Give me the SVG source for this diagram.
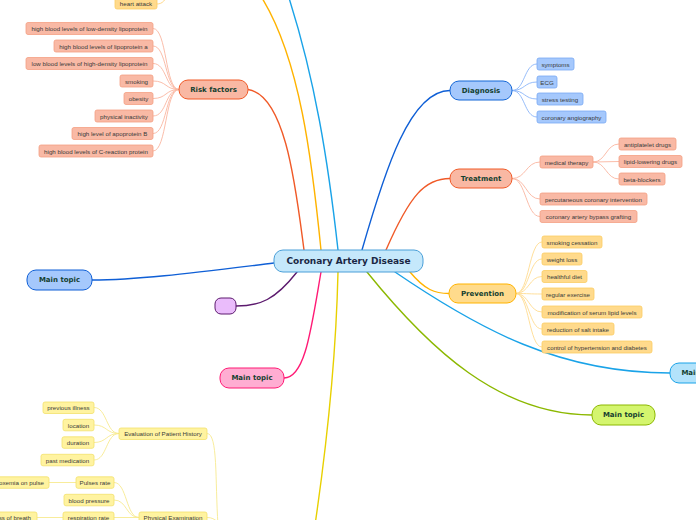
<svg xmlns="http://www.w3.org/2000/svg" width="696" height="520" viewBox="0 0 696 520">
<style>
.main{font-family:"DejaVu Sans",Verdana,sans-serif;font-weight:bold;font-size:7px;fill:#14402f;text-anchor:middle;dominant-baseline:central}
.ctr{font-family:"DejaVu Sans",Verdana,sans-serif;font-weight:bold;font-size:9px;fill:#1a2744;text-anchor:middle;dominant-baseline:central}
.sub{font-family:"Liberation Sans",Arial,sans-serif;font-size:6.2px;fill:#3a3a3a;text-anchor:middle;dominant-baseline:central}
.c{fill:none;stroke-linecap:round}
.rk{fill:#f9b9a5;stroke:#f4a083;stroke-width:0.8}
.dg{fill:#a5c8fc;stroke:#78a8f4;stroke-width:0.8}
.pv{fill:#ffda8c;stroke:#fbcd63;stroke-width:0.8}
.yl{fill:#fff3a0;stroke:#f2e16c;stroke-width:0.8}
</style>
<rect width="696" height="520" fill="#ffffff"/>
<g id="connectors">
<path class="c" stroke="#f05a28" stroke-width="1.4" d="M304,250 C296,190 286,95 248,89.5"/>
<path class="c" stroke="#ffb300" stroke-width="1.4" d="M321,250 C312,160 300,60 262,-2"/>
<path class="c" stroke="#1aa3e8" stroke-width="1.4" d="M338,250 C328,160 315,80 289,-2"/>
<path class="c" stroke="#0f5fd6" stroke-width="1.4" d="M362,250 C385,170 410,90.5 450,90.5"/>
<path class="c" stroke="#f05a28" stroke-width="1.4" d="M386,250 C410,195 425,178.5 450,178.5"/>
<path class="c" stroke="#ffb300" stroke-width="1.4" d="M410,272 C425,290 435,293.5 449,293.5"/>
<path class="c" stroke="#1aa3e8" stroke-width="1.4" d="M395,272 C480,330 560,373 670,373"/>
<path class="c" stroke="#8cb800" stroke-width="1.4" d="M367,272 C430,350 500,415 592,415"/>
<path class="c" stroke="#e8d000" stroke-width="1.4" d="M338,272 C336,360 326,450 315,525"/>
<path class="c" stroke="#ff1a75" stroke-width="1.4" d="M321,272 C311,330 305,378 284,378"/>
<path class="c" stroke="#5c1a6e" stroke-width="1.4" d="M297,272 C275,300 260,306 236,306"/>
<path class="c" stroke="#0f5fd6" stroke-width="1.4" d="M274,263 C200,272 140,280 92,280"/>
<path class="c" stroke="#ffd98a" stroke-width="1" d="M157,4 C163,4 165,0 168,-6"/>
<g stroke="#f9b5a0" stroke-width="0.9" fill="none">
<path d="M179,89.5 C165,89.5 167,28.5 153,28.5"/>
<path d="M179,89.5 C165,89.5 167,46 153,46"/>
<path d="M179,89.5 C165,89.5 167,63.5 153,63.5"/>
<path d="M179,89.5 C165,89.5 167,81 153,81"/>
<path d="M179,89.5 C165,89.5 167,98.5 153,98.5"/>
<path d="M179,89.5 C165,89.5 167,116 153,116"/>
<path d="M179,89.5 C165,89.5 167,133.5 153,133.5"/>
<path d="M179,89.5 C165,89.5 167,151 153,151"/>
<path d="M512,178.5 C526,178.5 526,162 540,162"/>
<path d="M512,178.5 C526,178.5 526,199 540,199"/>
<path d="M512,178.5 C526,178.5 526,216.5 540,216.5"/>
<path d="M593,162 C606,162 606,144 619,144"/>
<path d="M593,162 L619,161.5"/>
<path d="M593,162 C606,162 606,179 619,179"/>
</g>
<g stroke="#8ab4f8" stroke-width="0.9" fill="none">
<path d="M512,90.5 C525,90.5 524,64 537,64"/>
<path d="M512,90.5 C525,90.5 524,82 537,82"/>
<path d="M512,90.5 C525,90.5 524,99 537,99"/>
<path d="M512,90.5 C525,90.5 524,117 537,117"/>
</g>
<g stroke="#ffdb90" stroke-width="0.9" fill="none">
<path d="M516,293.5 C529,293.5 529,242 542,242"/>
<path d="M516,293.5 C529,293.5 529,259 542,259"/>
<path d="M516,293.5 C529,293.5 529,276.5 542,276.5"/>
<path d="M516,293.5 C529,293.5 529,294 542,294"/>
<path d="M516,293.5 C529,293.5 529,312 542,312"/>
<path d="M516,293.5 C529,293.5 529,329 542,329"/>
<path d="M516,293.5 C529,293.5 529,347 542,347"/>
</g>
<g stroke="#f7ea90" stroke-width="0.9" fill="none">
<path d="M207,433.5 C218,433.5 215,480 218,525"/>
<path d="M207,517.5 C212,517.5 214,519 218,522"/>
<path d="M119,433.5 C106,433.5 107,407.5 94,407.5"/>
<path d="M119,433.5 C106,433.5 107,425 94,425"/>
<path d="M119,433.5 C106,433.5 107,442.5 94,442.5"/>
<path d="M119,433.5 C106,433.5 107,460 94,460"/>
<path d="M139,517.5 C126,517.5 127,482.5 114,482.5"/>
<path d="M139,517.5 C126,517.5 127,500 114,500"/>
<path d="M139,517.5 L114,517.5"/>
<path d="M76,482.5 L49,482.5"/>
<path d="M63,517.5 L37,517.5"/>
</g>
</g>
<g id="center"><rect x="274" y="250" width="149" height="22" rx="9" fill="#c5e8fb" stroke="#4a9fd8" stroke-width="1"/><text class="ctr" x="348.5" y="261">Coronary Artery Disease</text></g>
<g id="risk-factors"><rect x="179" y="80" width="69" height="19" rx="9" fill="#f9b8a3" stroke="#f05a28" stroke-width="1"/><text class="main" x="213.5" y="89.5">Risk factors</text></g>
<g id="diagnosis"><rect x="450" y="81" width="62" height="19" rx="9" fill="#a5c8fc" stroke="#1366d6" stroke-width="1"/><text class="main" x="481" y="90.5">Diagnosis</text></g>
<g id="treatment"><rect x="450" y="169" width="62" height="19" rx="9" fill="#f9b8a3" stroke="#f05a28" stroke-width="1"/><text class="main" x="481" y="178.5">Treatment</text></g>
<g id="prevention"><rect x="449" y="284" width="67" height="19" rx="9" fill="#ffdb8c" stroke="#ffb300" stroke-width="1"/><text class="main" x="482.5" y="293.5">Prevention</text></g>
<g id="main-right"><rect x="670" y="363" width="64" height="20" rx="9" fill="#b3e3fb" stroke="#1aa3e8" stroke-width="1"/><text class="main" x="702" y="373">Main topic</text></g>
<g id="main-green"><rect x="592" y="405" width="63" height="20" rx="9" fill="#d4f56e" stroke="#8cb800" stroke-width="1"/><text class="main" x="623.5" y="415">Main topic</text></g>
<g id="main-pink"><rect x="220" y="368" width="64" height="20" rx="9" fill="#ffadd2" stroke="#ff1a75" stroke-width="1"/><text class="main" x="252" y="378">Main topic</text></g>
<g id="main-purple"><rect x="215" y="298" width="21" height="16" rx="6" fill="#eabcfb" stroke="#5c1a6e" stroke-width="1"/></g>
<g id="main-blue"><rect x="27" y="270" width="65" height="20" rx="9" fill="#a5c8fc" stroke="#0f5fd6" stroke-width="1"/><text class="main" x="59.5" y="280">Main topic</text></g>
<g id="heart-attack"><rect x="115" y="-3" width="42" height="12" rx="2" class="pv"/><text class="sub" x="136" y="3.5">heart attack</text></g>
<g id="rf1"><rect x="26" y="22.5" width="127" height="12" rx="2" class="rk"/><text class="sub" x="89.5" y="28.5">high blood levels of low-density lipoprotein</text></g>
<g id="rf2"><rect x="54" y="40" width="99" height="12" rx="2" class="rk"/><text class="sub" x="103.5" y="46">high blood levels of lipoprotein a</text></g>
<g id="rf3"><rect x="26" y="57.5" width="127" height="12" rx="2" class="rk"/><text class="sub" x="89.5" y="63.5">low blood levels of high-density lipoprotein</text></g>
<g id="rf4"><rect x="120" y="75" width="33" height="12" rx="2" class="rk"/><text class="sub" x="136.5" y="81">smoking</text></g>
<g id="rf5"><rect x="124" y="92.5" width="29" height="12" rx="2" class="rk"/><text class="sub" x="138.5" y="98.5">obesity</text></g>
<g id="rf6"><rect x="95" y="110" width="58" height="12" rx="2" class="rk"/><text class="sub" x="124" y="116">physical inactivity</text></g>
<g id="rf7"><rect x="72" y="127.5" width="81" height="12" rx="2" class="rk"/><text class="sub" x="112.5" y="133.5">high level of apoprotein B</text></g>
<g id="rf8"><rect x="39" y="145" width="114" height="12" rx="2" class="rk"/><text class="sub" x="96" y="151">high blood levels of C-reaction protein</text></g>
<g id="dg1"><rect x="537" y="58" width="37" height="12" rx="2" class="dg"/><text class="sub" x="555.5" y="64">symptoms</text></g>
<g id="dg2"><rect x="537" y="76" width="20" height="12" rx="2" class="dg"/><text class="sub" x="547" y="82">ECG</text></g>
<g id="dg3"><rect x="537" y="93" width="46" height="12" rx="2" class="dg"/><text class="sub" x="560" y="99">stress testing</text></g>
<g id="dg4"><rect x="537" y="111" width="69" height="12" rx="2" class="dg"/><text class="sub" x="571.5" y="117">coronary angiography</text></g>
<g id="tr1"><rect x="540" y="156" width="53" height="12" rx="2" class="rk"/><text class="sub" x="566.5" y="162">medical therapy</text></g>
<g id="tr1a"><rect x="619" y="138" width="57" height="12" rx="2" class="rk"/><text class="sub" x="647.5" y="144">antiplatelet drugs</text></g>
<g id="tr1b"><rect x="619" y="155.5" width="63" height="12" rx="2" class="rk"/><text class="sub" x="650.5" y="161.5">lipid-lowering drugs</text></g>
<g id="tr1c"><rect x="619" y="173" width="46" height="12" rx="2" class="rk"/><text class="sub" x="642" y="179">beta-blockers</text></g>
<g id="tr2"><rect x="540" y="193" width="107" height="12" rx="2" class="rk"/><text class="sub" x="593.5" y="199">percutaneous coronary intervention</text></g>
<g id="tr3"><rect x="540" y="210.5" width="97" height="12" rx="2" class="rk"/><text class="sub" x="588.5" y="216.5">coronary artery bypass grafting</text></g>
<g id="pv1"><rect x="542" y="236" width="60" height="12" rx="2" class="pv"/><text class="sub" x="572" y="242">smoking cessation</text></g>
<g id="pv2"><rect x="542" y="253" width="40" height="12" rx="2" class="pv"/><text class="sub" x="562" y="259">weight loss</text></g>
<g id="pv3"><rect x="542" y="270.5" width="45" height="12" rx="2" class="pv"/><text class="sub" x="564.5" y="276.5">healthful diet</text></g>
<g id="pv4"><rect x="542" y="288" width="52" height="12" rx="2" class="pv"/><text class="sub" x="568" y="294">regular exercise</text></g>
<g id="pv5"><rect x="542" y="306" width="100" height="12" rx="2" class="pv"/><text class="sub" x="592" y="312">modification of serum lipid levels</text></g>
<g id="pv6"><rect x="542" y="323" width="72" height="12" rx="2" class="pv"/><text class="sub" x="578" y="329">reduction of salt intake</text></g>
<g id="pv7"><rect x="542" y="341" width="110" height="12" rx="2" class="pv"/><text class="sub" x="597" y="347">control of hypertension and diabetes</text></g>
<g id="ev"><rect x="119" y="428" width="88" height="11.5" rx="2" class="yl"/><text class="sub" x="163" y="433.8">Evaluation of Patient History</text></g>
<g id="ev1"><rect x="43" y="402" width="51" height="11.5" rx="2" class="yl"/><text class="sub" x="68.5" y="407.8">previous illness</text></g>
<g id="ev2"><rect x="63" y="419.3" width="31" height="11.5" rx="2" class="yl"/><text class="sub" x="78.5" y="425">location</text></g>
<g id="ev3"><rect x="62" y="436.8" width="32" height="11.5" rx="2" class="yl"/><text class="sub" x="78" y="442.5">duration</text></g>
<g id="ev4"><rect x="41" y="454.3" width="53" height="11.5" rx="2" class="yl"/><text class="sub" x="67.5" y="460">past medication</text></g>
<g id="pe"><rect x="139" y="512" width="68" height="11.5" rx="2" class="yl"/><text class="sub" x="173" y="517.8">Physical Examination</text></g>
<g id="pe1"><rect x="76" y="476.8" width="38" height="11.5" rx="2" class="yl"/><text class="sub" x="95" y="482.5">Pulses rate</text></g>
<g id="pe1a"><rect x="-16" y="476.8" width="65" height="11.5" rx="2" class="yl"/><text class="sub" x="16.5" y="482.5">hypoxemia on pulse</text></g>
<g id="pe2"><rect x="64" y="494.3" width="50" height="11.5" rx="2" class="yl"/><text class="sub" x="89" y="500">blood pressure</text></g>
<g id="pe3"><rect x="63" y="512" width="51" height="11.5" rx="2" class="yl"/><text class="sub" x="88.5" y="517.8">respiration rate</text></g>
<g id="pe3a"><rect x="-28" y="512" width="65" height="11.5" rx="2" class="yl"/><text class="sub" x="4.5" y="517.8">shortness of breath</text></g>
</svg>
